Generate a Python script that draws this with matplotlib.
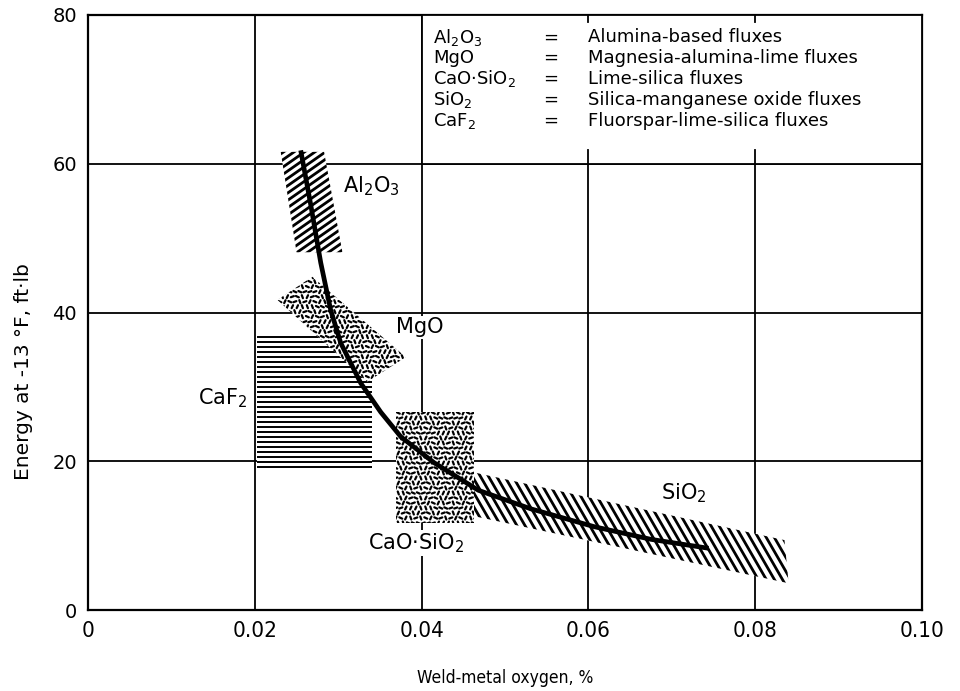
import numpy as np
import matplotlib
matplotlib.use('Agg')
import matplotlib.pyplot as plt
from matplotlib.patches import Polygon, Rectangle
from matplotlib.collections import LineCollection

# Energy vs. weld-metal oxygen, trend curve
curve_x = [0.0255, 0.0267, 0.0279, 0.0291, 0.0303, 0.0327, 0.0351, 0.0375,
           0.0415, 0.0468, 0.0531, 0.0607, 0.0675, 0.0744]
curve_y = [61.8, 54.5, 46.7, 40.3, 35.9, 30.5, 26.6, 23.3,
           19.8, 16.1, 13.6, 11.2, 9.5, 8.3]

# flux regions (corners in data units)
al2o3_band = [(0.0231, 61.6), (0.0283, 61.6), (0.0305, 48.1), (0.0250, 48.1)]
sio2_band = [(0.0430, 19.3), (0.0835, 9.4), (0.0840, 3.6), (0.0430, 13.4)]
mgo_zone = [(0.0227, 41.7), (0.0269, 44.8), (0.0381, 34.0), (0.0335, 30.7)]
caf2_x = (0.0202, 0.0341)
caf2_y = (18.8, 37.0)
caosio2_x = (0.0369, 0.0463)
caosio2_y = (11.7, 26.6)

xticks = [0, 0.02, 0.04, 0.06, 0.08, 0.10]
xtick_labels = ['0', '0.02', '0.04', '0.06', '0.08', '0.10']
yticks = [0, 20, 40, 60, 80]

key_formulas = [r'Al$_2$O$_3$', 'MgO', r'CaO$\cdot$SiO$_2$', r'SiO$_2$', r'CaF$_2$']
key_names = ['Alumina-based fluxes', 'Magnesia-alumina-lime fluxes',
             'Lime-silica fluxes', 'Silica-manganese oxide fluxes',
             'Fluorspar-lime-silica fluxes']
key_rows = [77.0, 74.2, 71.4, 68.6, 65.8]

fig = plt.figure(figsize=(9.6, 6.91), dpi=100)
ax = fig.add_axes([0.0917, 0.1172, 0.8688, 0.8611])
ax.set_xlim(0, 0.10)
ax.set_ylim(0, 80)

for s in ax.spines.values():
    s.set_linewidth(1.6)
ax.tick_params(length=0, pad=8)
ax.set_xticks(xticks)
ax.set_xticklabels(xtick_labels, fontsize=16, fontstretch='condensed')
ax.set_yticks(yticks)
ax.set_yticklabels([str(v) for v in yticks], fontsize=14)
ax.set_xlabel('Weld-metal oxygen, %', fontsize=12.5, fontstretch='condensed',
              labelpad=20)
ax.set_ylabel('Energy at -13 °F, ft·lb', fontsize=14.5)
ax.yaxis.set_label_coords(-0.066, 0.40)

for gx in xticks[1:-1]:
    ax.axvline(gx, color='black', lw=1.3, zorder=1)
for gy in yticks[1:-1]:
    ax.axhline(gy, color='black', lw=1.3, zorder=1)

fig.canvas.draw()
inv = ax.transData.inverted()


def white_base(poly, z):
    patch = Polygon(poly, closed=True, facecolor='white', edgecolor='none', zorder=z)
    ax.add_patch(patch)
    return patch


def line_hatch(poly, angle, spacing, lw, z):
    # parallel strokes (angle in screen degrees) clipped to the polygon
    patch = white_base(poly, z)
    pts = ax.transData.transform(poly)
    c = pts.mean(axis=0)
    r = np.hypot(*(pts - c).T).max() + 10
    a = np.radians(angle)
    d = np.array([np.cos(a), np.sin(a)])
    n = np.array([-d[1], d[0]])
    segs = []
    for off in np.arange(-r, r, spacing):
        p0 = c + n * off - d * r
        p1 = c + n * off + d * r
        segs.append(inv.transform([p0, p1]))
    lc = LineCollection(segs, colors='black', linewidths=lw, zorder=z + 0.1,
                        capstyle='butt')
    ax.add_collection(lc)
    lc.set_clip_path(patch)


def stipple(poly, z, step=5.0, dash=3.2, lw=1.6):
    # short dashes on a staggered grid, turning through four directions
    patch = white_base(poly, z)
    pts = ax.transData.transform(poly)
    x0, y0 = pts.min(axis=0) - step
    x1, y1 = pts.max(axis=0) + step
    segs = []
    for j, yy in enumerate(np.arange(y0, y1, step)):
        for i, xx in enumerate(np.arange(x0, x1, step)):
            k = (i * 3 + j * 2 + (i * j) % 3) % 4
            a = np.radians(k * 45 + 20)
            h = 0.5 * dash * np.array([np.cos(a), np.sin(a)])
            cx = xx + (step / 2 if j % 2 else 0)
            p = np.array([cx, yy])
            segs.append(inv.transform([p - h, p + h]))
    lc = LineCollection(segs, colors='black', linewidths=lw, zorder=z + 0.1,
                        capstyle='round')
    ax.add_collection(lc)
    lc.set_clip_path(patch)


caf2_box = [(caf2_x[0], caf2_y[0]), (caf2_x[1], caf2_y[0]),
            (caf2_x[1], caf2_y[1]), (caf2_x[0], caf2_y[1])]
caosio2_box = [(caosio2_x[0], caosio2_y[0]), (caosio2_x[1], caosio2_y[0]),
               (caosio2_x[1], caosio2_y[1]), (caosio2_x[0], caosio2_y[1])]

line_hatch(caf2_box, 0, 5.0, 1.4, 2)
stipple(mgo_zone, 3)
line_hatch(al2o3_band, 35, 6.0, 2.0, 3)
line_hatch(sio2_band, -60, 7.0, 2.0, 3)
stipple(caosio2_box, 4)

ax.plot(curve_x, curve_y, color='black', lw=3.4, zorder=6, solid_capstyle='butt')

# region labels
lab = dict(fontsize=15, zorder=7,
           bbox=dict(facecolor='white', edgecolor='none', pad=1.0))
ax.text(0.0306, 57.0, r'Al$_2$O$_3$', ha='left', va='center', **lab)
ax.text(0.0369, 38.0, 'MgO', ha='left', va='center', **lab)
ax.text(0.0162, 28.5, r'CaF$_2$', ha='center', va='center', **lab)
ax.text(0.0393, 9.0, r'CaO$\cdot$SiO$_2$', ha='center', va='center', **lab)
ax.text(0.0714, 15.7, r'SiO$_2$', ha='center', va='center', **lab)

# key box over the upper right cells
ax.add_patch(Rectangle((0.04, 60), 0.06, 20, facecolor='white', edgecolor='black',
                       lw=1.3, zorder=5))
for gx in xticks[3:5]:
    ax.plot([gx, gx], [79.0, 80], color='black', lw=1.3, zorder=5.5)
    ax.plot([gx, gx], [60, 61.8], color='black', lw=1.3, zorder=5.5)
for f, nm, yy in zip(key_formulas, key_names, key_rows):
    ax.text(0.0414, yy, f, fontsize=13, va='center', ha='left', zorder=6)
    ax.text(0.0555, yy, '=', fontsize=13, va='center', ha='center', zorder=6)
    ax.text(0.0600, yy, nm, fontsize=13, va='center', ha='left', zorder=6)

fig.savefig('out.png', dpi=100)
